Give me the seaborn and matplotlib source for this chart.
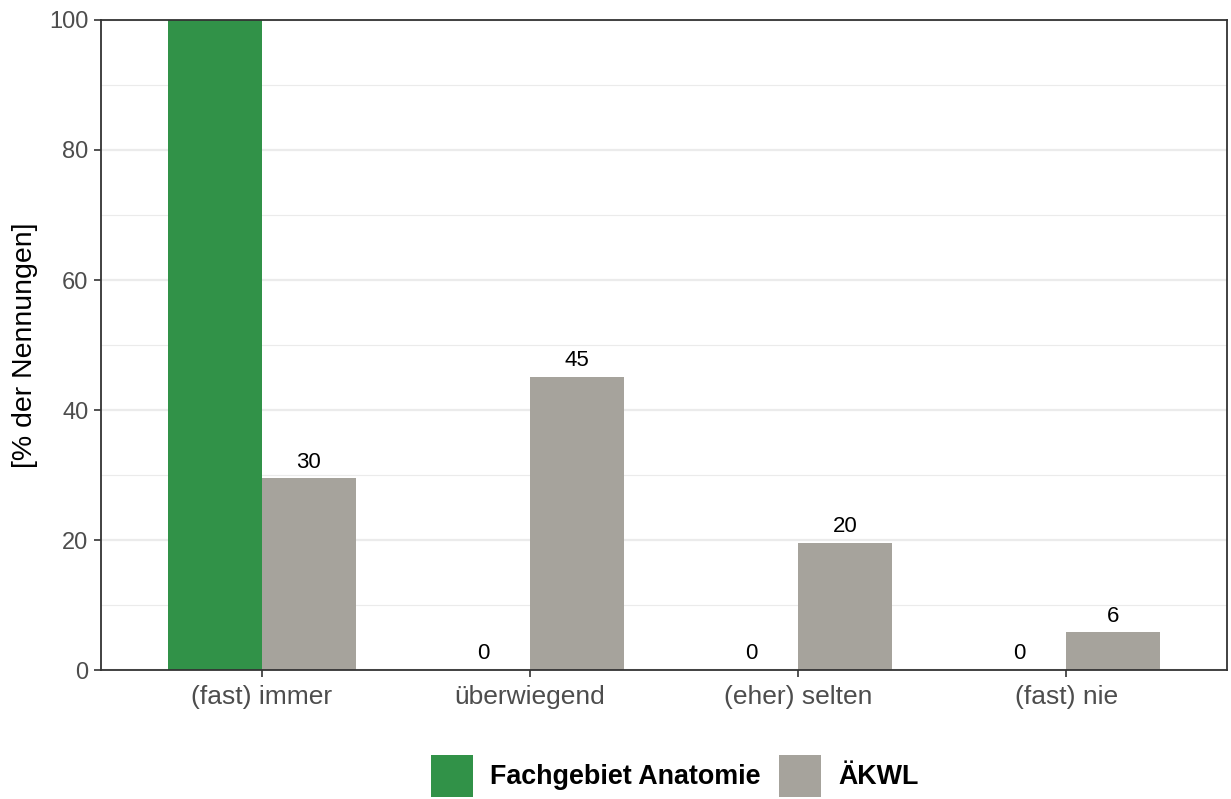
import numpy as np
import pandas as pd
import matplotlib
matplotlib.use("Agg")
import matplotlib.pyplot as plt
import seaborn as sns
from matplotlib.patches import Patch
from matplotlib.ticker import MultipleLocator

# data
categories = ["(fast) immer", "überwiegend", "(eher) selten", "(fast) nie"]
groups = ["Fachgebiet Anatomie", "ÄKWL"]
anatomie = [100.0, 0.0, 0.0, 0.0]
aekwl = [29.5, 45.1, 19.6, 5.8]
anatomie_labels = ["", "0", "0", "0"]
aekwl_labels = ["30", "45", "20", "6"]
colors = ["#319248", "#A6A39C"]

df = pd.DataFrame({
    "Antwort": categories * 2,
    "Gruppe": [groups[0]] * 4 + [groups[1]] * 4,
    "Prozent": anatomie + aekwl,
})

sns.set_theme(style="white")
plt.rcParams["font.family"] = ["Liberation Sans", "DejaVu Sans"]

fig = plt.figure(figsize=(12.31, 7.99), dpi=100)
ax = fig.add_axes([0.082, 0.1614, 0.9148, 0.8136])

# grid like ggplot theme_bw
ax.set_axisbelow(True)
ax.yaxis.set_minor_locator(MultipleLocator(10))
ax.yaxis.set_major_locator(MultipleLocator(20))
ax.grid(which="major", color="#EBEBEB", linewidth=1.6)
ax.grid(which="minor", axis="y", color="#EBEBEB", linewidth=0.8)

sns.barplot(data=df, x="Antwort", y="Prozent", hue="Gruppe", order=categories,
            hue_order=groups, palette=colors, width=0.7, linewidth=0,
            saturation=1, legend=False, ax=ax)

ax.set_xlim(-0.6, 3.6)
ax.set_ylim(0, 100)

# value labels above bars
for i in range(len(categories)):
    for off, val, lab in [(-0.175, anatomie[i], anatomie_labels[i]),
                          (0.175, aekwl[i], aekwl_labels[i])]:
        if lab:
            ax.annotate(lab, (i + off, val), xytext=(0, 4), textcoords="offset points",
                        ha="center", va="bottom", fontsize=16, color="black")

ax.set_xlabel("")
ax.set_ylabel("[% der Nennungen]", fontsize=20.5, color="black", labelpad=8)
ax.tick_params(axis="both", which="major", colors="#4D4D4D",
               length=5, width=1.2, color="#333333", left=True, bottom=True, pad=4)
ax.tick_params(axis="y", which="major", labelsize=17)
ax.tick_params(axis="x", which="major", labelsize=19, pad=6)
ax.tick_params(axis="y", which="minor", length=0)
for s in ax.spines.values():
    s.set_color("#333333")
    s.set_linewidth(1.3)

handles = [Patch(facecolor=c, edgecolor="none") for c in colors]
fig.legend(handles, groups, loc="center", bbox_to_anchor=(0.548, 0.029), ncol=2,
           frameon=False, prop={"weight": "bold", "size": 19.4}, handlelength=1.56,
           handleheight=2.0, handletextpad=0.63, columnspacing=0.7,
           borderaxespad=0, borderpad=0, labelcolor="black")

fig.savefig("out.png", dpi=100)
